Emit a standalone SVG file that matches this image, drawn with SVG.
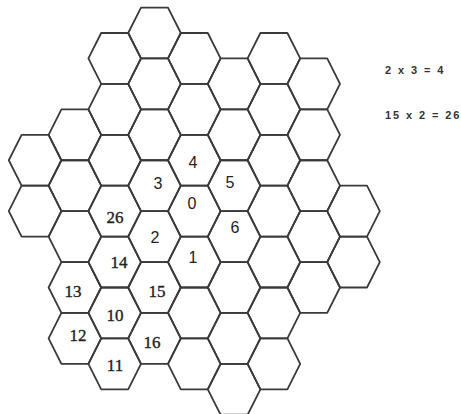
<svg xmlns="http://www.w3.org/2000/svg" xmlns:xlink="http://www.w3.org/1999/xlink" width="461" height="414" viewBox="0 0 461 414">
<style>
.hex{fill:none;stroke:#3a3a3a;stroke-width:1.8;stroke-linejoin:round}
.s{font-family:"Liberation Sans",Arial,sans-serif;font-size:16px;fill:#222;text-anchor:middle}
.r{font-family:"Liberation Serif","Times New Roman",serif;font-size:17px;fill:#222;text-anchor:middle;stroke:#222;stroke-width:0.35}
.eq{font-family:"Liberation Sans",Arial,sans-serif;font-size:11px;font-weight:bold;fill:#333;letter-spacing:1.9px}
</style>
<defs>
<polygon id="hx" class="hex" points="-13.5,-25.45 13.5,-25.45 26.3,0 13.5,25.45 -13.5,25.45 -26.3,0"/>
</defs>
<rect width="461" height="414" fill="#fff"/>
<g id="connectors"></g>
<!-- column -3 -->
<g id="h_m3_2"><use xlink:href="#hx" x="35.1" y="160.25"/></g>
<g id="h_m3_3"><use xlink:href="#hx" x="35.1" y="211.15"/></g>
<!-- column -2 -->
<g id="h_m2_2"><use xlink:href="#hx" x="74.9" y="134.8"/></g>
<g id="h_m2_3"><use xlink:href="#hx" x="74.9" y="185.7"/></g>
<g id="h_m2_4"><use xlink:href="#hx" x="74.9" y="236.6"/></g>
<g id="h_m2_5"><use xlink:href="#hx" x="74.9" y="287.5"/><text class="r" x="73" y="297">13</text></g>
<g id="h_m2_6"><use xlink:href="#hx" x="74.9" y="338.4"/><text class="r" x="78" y="341">12</text></g>
<!-- column -1 -->
<g id="h_m1_0"><use xlink:href="#hx" x="114.7" y="58.45"/></g>
<g id="h_m1_1"><use xlink:href="#hx" x="114.7" y="109.35"/></g>
<g id="h_m1_2"><use xlink:href="#hx" x="114.7" y="160.25"/></g>
<g id="h_m1_3"><use xlink:href="#hx" x="114.7" y="211.15"/><text class="r" x="115" y="223">26</text></g>
<g id="h_m1_4"><use xlink:href="#hx" x="114.7" y="262.05"/><text class="r" x="119" y="268">14</text></g>
<g id="h_m1_5"><use xlink:href="#hx" x="114.7" y="312.95"/><text class="r" x="115" y="321">10</text></g>
<g id="h_m1_6"><use xlink:href="#hx" x="114.7" y="363.85"/><text class="r" x="115" y="371">11</text></g>
<!-- column 0 -->
<g id="h_0_0"><use xlink:href="#hx" x="154.5" y="33"/></g>
<g id="h_0_1"><use xlink:href="#hx" x="154.5" y="83.9"/></g>
<g id="h_0_2"><use xlink:href="#hx" x="154.5" y="134.8"/></g>
<g id="h_0_3"><use xlink:href="#hx" x="154.5" y="185.7"/><text class="s" x="158" y="189">3</text></g>
<g id="h_0_4"><use xlink:href="#hx" x="154.5" y="236.6"/><text class="s" x="155" y="243">2</text></g>
<g id="h_0_5"><use xlink:href="#hx" x="154.5" y="287.5"/><text class="r" x="157" y="297">15</text></g>
<g id="h_0_6"><use xlink:href="#hx" x="154.5" y="338.4"/><text class="r" x="152" y="348">16</text></g>
<!-- column 1 -->
<g id="h_1_0"><use xlink:href="#hx" x="194.3" y="58.45"/></g>
<g id="h_1_1"><use xlink:href="#hx" x="194.3" y="109.35"/></g>
<g id="h_1_2"><use xlink:href="#hx" x="194.3" y="160.25"/><text class="s" x="193" y="168">4</text></g>
<g id="h_1_3"><use xlink:href="#hx" x="194.3" y="211.15"/><text class="s" x="192" y="209">0</text></g>
<g id="h_1_4"><use xlink:href="#hx" x="194.3" y="262.05"/><text class="s" x="193" y="263">1</text></g>
<g id="h_1_5"><use xlink:href="#hx" x="194.3" y="312.95"/></g>
<g id="h_1_6"><use xlink:href="#hx" x="194.3" y="363.85"/></g>
<!-- column 2 -->
<g id="h_2_1"><use xlink:href="#hx" x="234.1" y="83.9"/></g>
<g id="h_2_2"><use xlink:href="#hx" x="234.1" y="134.8"/></g>
<g id="h_2_3"><use xlink:href="#hx" x="234.1" y="185.7"/><text class="s" x="230" y="188">5</text></g>
<g id="h_2_4"><use xlink:href="#hx" x="234.1" y="236.6"/><text class="s" x="235" y="233">6</text></g>
<g id="h_2_5"><use xlink:href="#hx" x="234.1" y="287.5"/></g>
<g id="h_2_6"><use xlink:href="#hx" x="234.1" y="338.4"/></g>
<g id="h_2_7"><use xlink:href="#hx" x="234.1" y="389.3"/></g>
<!-- column 3 -->
<g id="h_3_0"><use xlink:href="#hx" x="273.9" y="58.45"/></g>
<g id="h_3_1"><use xlink:href="#hx" x="273.9" y="109.35"/></g>
<g id="h_3_2"><use xlink:href="#hx" x="273.9" y="160.25"/></g>
<g id="h_3_3"><use xlink:href="#hx" x="273.9" y="211.15"/></g>
<g id="h_3_4"><use xlink:href="#hx" x="273.9" y="262.05"/></g>
<g id="h_3_5"><use xlink:href="#hx" x="273.9" y="312.95"/></g>
<g id="h_3_6"><use xlink:href="#hx" x="273.9" y="363.85"/></g>
<!-- column 4 -->
<g id="h_4_1"><use xlink:href="#hx" x="313.7" y="83.9"/></g>
<g id="h_4_2"><use xlink:href="#hx" x="313.7" y="134.8"/></g>
<g id="h_4_3"><use xlink:href="#hx" x="313.7" y="185.7"/></g>
<g id="h_4_4"><use xlink:href="#hx" x="313.7" y="236.6"/></g>
<g id="h_4_5"><use xlink:href="#hx" x="313.7" y="287.5"/></g>
<!-- column 5 -->
<g id="h_5_3"><use xlink:href="#hx" x="353.5" y="211.15"/></g>
<g id="h_5_4"><use xlink:href="#hx" x="353.5" y="262.05"/></g>
<!-- equations -->
<g id="equations">
<text class="eq" x="385" y="74">2 x 3 = 4</text>
<text class="eq" x="385" y="119">15 x 2 = 26</text>
</g>
</svg>
